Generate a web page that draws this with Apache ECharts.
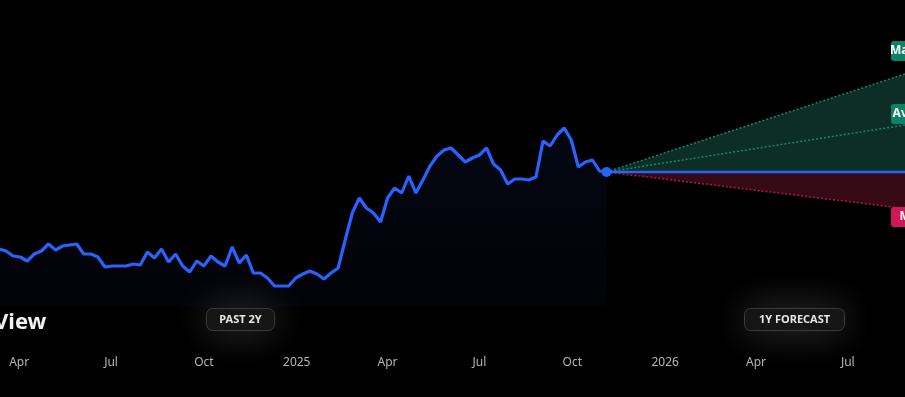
<!DOCTYPE html>
<html>
<head>
<meta charset="utf-8">
<title>Forecast View</title>
<script src="https://cdn.jsdelivr.net/npm/echarts@6/dist/echarts.min.js"></script>
<style>
  html, body { margin: 0; padding: 0; background: #000; overflow: hidden; }
  /* chart is wider than the window: forecast runs past the right edge */
  #chartmain { position: absolute; left: -10px; top: 0; width: 985px; height: 397px; }
</style>
</head>
<body>
<div id="chartmain"></div>
<script>
// weekly closing prices, past 2Y (first weeks fall off the left edge)
var firstWeek = '2024-03-12';
var prices = [
  39.0, 38.0, 35.5, 35.0, 33.0, 36.5, 38.0, 41.5, 38.5, 40.5,
  41.0, 41.5, 36.5, 36.5, 35.0, 30.0, 30.5, 30.5, 30.5, 31.5,
  31.0, 37.5, 34.5, 39.0, 32.5, 36.5, 30.5, 27.5, 33.0, 30.5,
  35.5, 32.5, 30.5, 40.0, 32.0, 36.0, 27.0, 27.0, 24.5, 20.5,
  20.5, 20.5, 24.5, 26.5, 28.0, 26.5, 24.0, 27.0, 29.5, 43.5,
  57.0, 64.5, 59.5, 57.0, 52.5, 64.5, 69.5, 67.0, 75.5, 67.0,
  73.5, 80.5, 85.5, 88.5, 89.5, 86.0, 82.5, 84.5, 86.0, 89.5,
  81.5, 78.5, 71.5, 74.0, 74.0, 73.5, 75.0, 93.0, 90.5, 96.0,
  99.5, 93.5, 80.0, 82.5, 83.5, 78.0, 77.5
];

// 1Y forecast targets
var forecastEnd = '2026-11-04';
var targetMax = 138.0;
var targetAvg = 106.5;
var targetMin = 55.0;

var axisStart = '2024-03-13';
var monthNames = ['Jan', 'Feb', 'Mar', 'Apr', 'May', 'Jun', 'Jul', 'Aug', 'Sep', 'Oct', 'Nov', 'Dec'];

var DAY = 24 * 3600 * 1000;
var t0 = +new Date(firstWeek + 'T00:00:00');
var pastData = prices.map(function (p, i) {
  return [t0 + i * 7 * DAY, p];
});
var lastPoint = pastData[pastData.length - 1];
var endTs = +new Date(forecastEnd + 'T00:00:00');

function targetLine(name, target, color, bg, areaColor) {
  var s = {
    name: name,
    type: 'line',
    showSymbol: true,
    symbolSize: 0,
    z: 3,
    lineStyle: { color: color, width: 1.5, type: [2, 2] },
    data: [
      lastPoint,
      {
        value: [endTs, target],
        label: {
          show: true,
          position: 'left',
          distance: 6,
          formatter: name + ' $' + target.toFixed(2),
          color: '#fff',
          backgroundColor: bg,
          borderRadius: 3,
          padding: [4, 6],
          width: 66,
          fontFamily: 'Noto Sans',
          fontWeight: 'bold',
          fontSize: 12
        }
      }
    ]
  };
  if (areaColor) {
    s.areaStyle = { origin: lastPoint[1], color: areaColor, opacity: 1 };
  }
  return s;
}

function badge(cx, cy, w, txt) {
  return {
    type: 'group',
    left: cx - w / 2,
    top: cy - 11,
    children: [
      {
        type: 'rect',
        shape: { x: 0, y: 0, width: w, height: 22, r: 6 },
        style: {
          fill: '#151515',
          stroke: '#3a3a3a',
          lineWidth: 1,
          shadowBlur: 40,
          shadowColor: 'rgba(80,80,80,0.75)'
        }
      },
      {
        type: 'text',
        x: w / 2,
        y: 11,
        style: {
          text: txt,
          fill: '#e6e6e6',
          font: 'bold 11px "Noto Sans"',
          align: 'center',
          verticalAlign: 'middle'
        }
      }
    ]
  };
}

var option = {
  backgroundColor: '#000',
  animation: false,
  title: {
    text: 'View',
    left: 4,
    top: 312,
    padding: 0,
    textStyle: { color: '#f2f2f2', fontSize: 22, fontWeight: 'bold', fontFamily: 'Noto Sans' }
  },
  grid: { left: 10, right: 0, top: 0, bottom: 90 },
  xAxis: {
    type: 'time',
    min: +new Date(axisStart + 'T00:00:00'),
    max: endTs,
    minInterval: 92 * DAY,
    maxInterval: 92 * DAY,
    axisLine: { show: false },
    axisTick: { show: false },
    splitLine: { show: false },
    axisLabel: {
      color: '#b5b5b5',
      fontSize: 12,
      fontFamily: 'Noto Sans',
      margin: 50,
      showMinLabel: false,
      showMaxLabel: false,
      formatter: function (val) {
        var d = new Date(val);
        return d.getMonth() === 0 ? String(d.getFullYear()) : monthNames[d.getMonth()];
      }
    }
  },
  yAxis: {
    type: 'value',
    min: 10,
    max: 163.5,
    show: false,
    splitLine: { show: false }
  },
  series: [
    targetLine('Max', targetMax, '#17876b', '#0c8366', '#0c2e26'),
    targetLine('Avg', targetAvg, '#17876b', '#0c8366', null),
    targetLine('Min', targetMin, '#b3174c', '#d0175a', '#350a16'),
    {
      name: 'Current',
      type: 'line',
      symbol: 'none',
      z: 4,
      lineStyle: { color: '#2962ff', width: 2.5 },
      data: [lastPoint, [endTs, lastPoint[1]]]
    },
    {
      name: 'Price',
      type: 'line',
      z: 5,
      showSymbol: true,
      symbol: 'circle',
      symbolSize: function (v, p) {
        return p.dataIndex === pastData.length - 1 ? 10 : 0;
      },
      itemStyle: { color: '#2962ff' },
      lineStyle: { color: '#2962ff', width: 3.2 },
      areaStyle: {
        origin: 'start',
        color: new echarts.graphic.LinearGradient(0, 0, 0, 1, [
          { offset: 0, color: 'rgba(41,98,255,0.10)' },
          { offset: 1, color: 'rgba(41,98,255,0.04)' }
        ])
      },
      data: pastData
    }
  ],
  graphic: [
    badge(250, 319, 68, 'PAST 2Y'),
    badge(804, 319, 100, '1Y FORECAST')
  ]
};

var myChart = echarts.init(document.getElementById('chartmain'));
myChart.setOption(option);
</script>
</body>
</html>
